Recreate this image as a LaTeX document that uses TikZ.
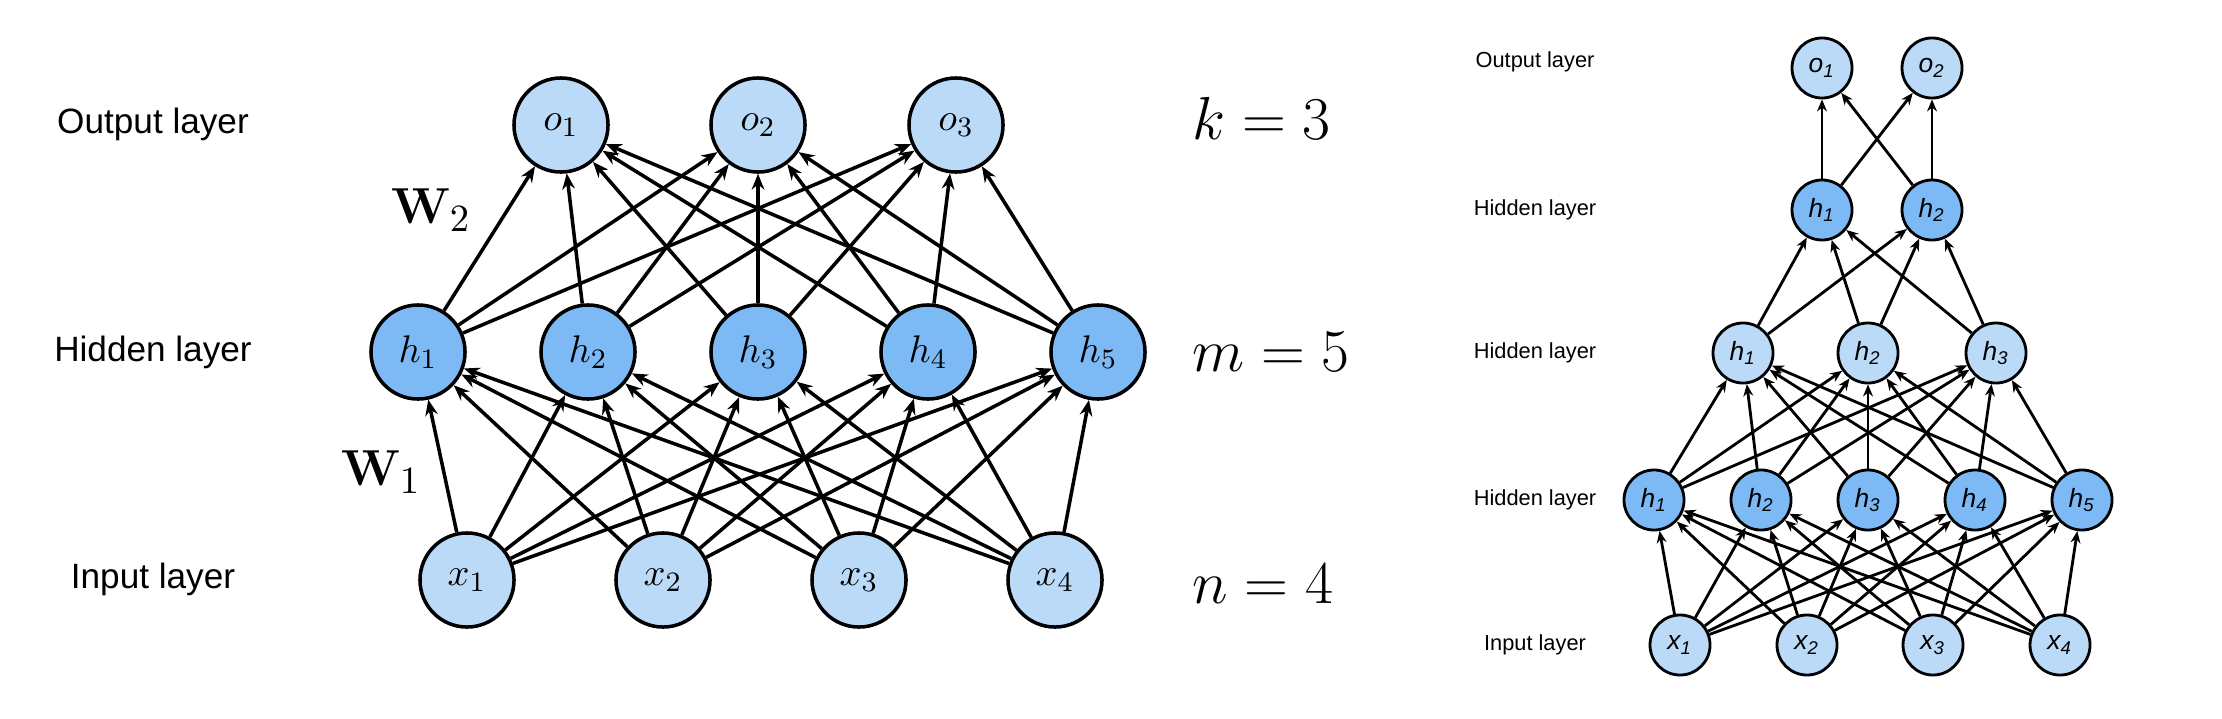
\documentclass[tikz,border=0pt]{standalone}
\usepackage[no-math]{fontspec}
\setmainfont{Liberation Sans}
\usetikzlibrary{arrows.meta}

\definecolor{inblue}{RGB}{187,218,248}
\definecolor{hidblue}{RGB}{125,186,245}

\tikzset{
  unit/.style={draw,circle,line width=1pt,minimum size=0.94cm,inner sep=0pt,
    font=\fontsize{11}{12}\selectfont},
  smallunit/.style={draw,circle,line width=0.8pt,minimum size=0.6cm,inner sep=0pt,
    font=\fontsize{7.5}{8}\selectfont\itshape},
  conn/.style={-{Stealth[length=4.5pt,width=3.6pt,inset=1.5pt]},line width=1pt},
  smallconn/.style={-{Stealth[length=3.4pt,width=2.8pt,inset=1.1pt]},line width=0.8pt},
  layerlabel/.style={font=\fontsize{10}{12}\selectfont},
  smalllabel/.style={font=\fontsize{6.2}{7}\selectfont},
}

\begin{document}
\begin{tikzpicture}[x=0.01cm,y=-0.01cm]
    \useasboundingbox (0,0) rectangle (2222,718);

    % left: one hidden layer
    \begin{scope}[every node/.style={unit}]
        \foreach \i/\x in {1/467,2/663,3/859,4/1055}
            \node[fill=inblue] (x\i) at (\x,580) {$x_\i$};
        \foreach \i/\x in {1/418,2/588,3/758,4/928,5/1098}
            \node[fill=hidblue] (h\i) at (\x,352) {$h_\i$};
        \foreach \i/\x in {1/561,2/758,3/956}
            \node[fill=inblue] (o\i) at (\x,125) {$o_\i$};
    \end{scope}

    \foreach \i in {1,...,4}
        \foreach \j in {1,...,5}
            \draw[conn] (x\i) -- (h\j);
    \foreach \j in {1,...,5}
        \foreach \k in {1,...,3}
            \draw[conn] (h\j) -- (o\k);

    \node[layerlabel] (outlbl) at (153,124) {Output layer};
    \node[layerlabel] (hidlbl) at (153,352) {Hidden layer};
    \node[layerlabel] (inlbl) at (153,579) {Input layer};

    \node[font=\fontsize{15.5}{16}\selectfont] (wtwo) at (431,210) {$\mathbf{W}_2$};
    \node[font=\fontsize{15.5}{16}\selectfont] (wone) at (381,472) {$\mathbf{W}_1$};

    \node[anchor=west,font=\fontsize{17.5}{18}\selectfont] (kout) at (1180,118) {$k=3$};
    \node[anchor=west,font=\fontsize{17.5}{18}\selectfont] (mhid) at (1180,352) {$m=5$};
    \node[anchor=west,font=\fontsize{17.5}{18}\selectfont] (nin) at (1180,584) {$n=4$};

    % right: three hidden layers
    \begin{scope}[every node/.style={smallunit}]
        \foreach \i/\x in {1/1680,2/1807,3/1933,4/2060}
            \node[fill=inblue] (rx\i) at (\x,645) {x\textsubscript{\i}};
        \foreach \i/\x in {1/1654,2/1761,3/1868,4/1975,5/2082}
            \node[fill=hidblue] (ra\i) at (\x,500) {h\textsubscript{\i}};
        \foreach \i/\x in {1/1743,2/1868,3/1996}
            \node[fill=inblue] (rb\i) at (\x,353) {h\textsubscript{\i}};
        \foreach \i/\x in {1/1822,2/1932}
            \node[fill=hidblue] (rc\i) at (\x,210) {h\textsubscript{\i}};
        \foreach \i/\x in {1/1822,2/1932}
            \node[fill=inblue] (ro\i) at (\x,68) {o\textsubscript{\i}};
    \end{scope}

    \foreach \i in {1,...,4}
        \foreach \j in {1,...,5}
            \draw[smallconn] (rx\i) -- (ra\j);
    \foreach \i in {1,...,5}
        \foreach \j in {1,...,3}
            \draw[smallconn] (ra\i) -- (rb\j);
    \foreach \i in {1,...,3}
        \foreach \j in {1,2}
            \draw[smallconn] (rb\i) -- (rc\j);
    \foreach \i in {1,2}
        \foreach \j in {1,2}
            \draw[smallconn] (rc\i) -- (ro\j);

    \node[smalllabel] (routlbl) at (1535,62) {Output layer};
    \node[smalllabel] (rhidc) at (1535,210) {Hidden layer};
    \node[smalllabel] (rhidb) at (1535,353) {Hidden layer};
    \node[smalllabel] (rhida) at (1535,500) {Hidden layer};
    \node[smalllabel] (rinlbl) at (1535,645) {Input layer};
\end{tikzpicture}
\end{document}
